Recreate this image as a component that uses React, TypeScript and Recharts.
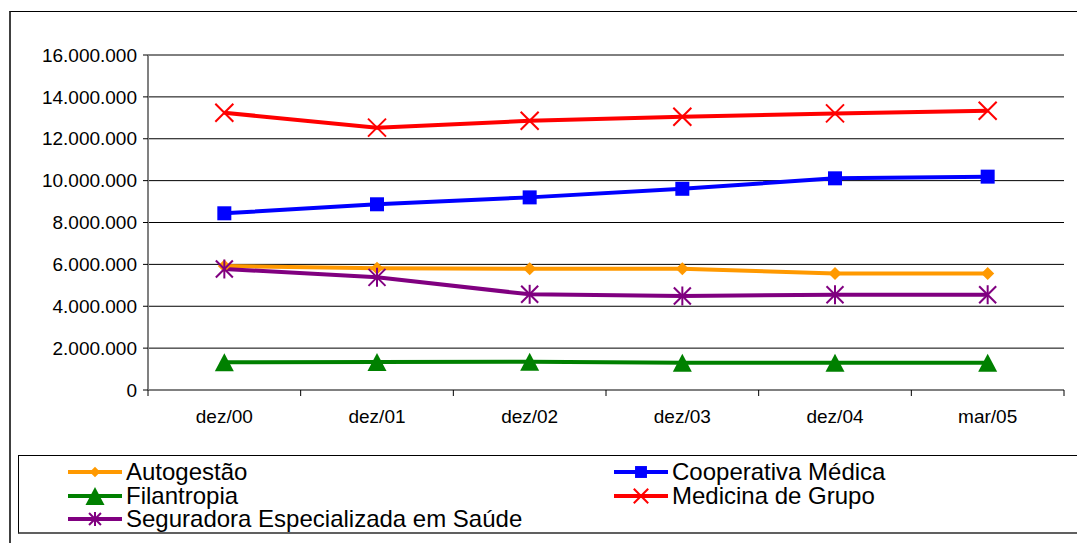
import React from 'react';
import { LineChart, Line, XAxis, YAxis, CartesianGrid, Legend } from 'recharts';

const categories = ['dez/00', 'dez/01', 'dez/02', 'dez/03', 'dez/04', 'mar/05'];
const autogestao = [5920000, 5810000, 5790000, 5790000, 5570000, 5570000];
const cooperativa = [8440000, 8870000, 9200000, 9610000, 10110000, 10190000];
const filantropia = [1320000, 1340000, 1350000, 1300000, 1300000, 1300000];
const medicina = [13240000, 12530000, 12860000, 13050000, 13210000, 13340000];
const seguradora = [5780000, 5380000, 4570000, 4490000, 4550000, 4550000];
const yTicks = [0, 2000000, 4000000, 6000000, 8000000, 10000000, 12000000, 14000000, 16000000];

const data = categories.map((c, i) => ({
  cat: c,
  a: autogestao[i],
  c: cooperativa[i],
  f: filantropia[i],
  m: medicina[i],
  s: seguradora[i],
}));

type Kind = 'diamond' | 'square' | 'triangle' | 'x' | 'star';
const series: { key: string; name: string; color: string; kind: Kind; ls: number }[] = [
  { key: 'a', name: 'Autogestão', color: '#FF9900', kind: 'diamond', ls: 0.8 },
  { key: 'c', name: 'Cooperativa Médica', color: '#0000FF', kind: 'square', ls: 0.85 },
  { key: 'f', name: 'Filantropia', color: '#008000', kind: 'triangle', ls: 1 },
  { key: 'm', name: 'Medicina de Grupo', color: '#FF0000', kind: 'x', ls: 0.8 },
  { key: 's', name: 'Seguradora Especializada em Saúde', color: '#800080', kind: 'star', ls: 0.7 },
];

const FONT = "Arial, 'Liberation Sans', sans-serif";
const TICK_MARGIN = 20;
const TICK_LEN = 6;

function Marker({ cx, cy, kind, color, s = 1 }: { cx: number; cy: number; kind: Kind; color: string; s?: number }) {
  if (cx == null || cy == null || isNaN(cx) || isNaN(cy)) return null;
  switch (kind) {
    case 'diamond': {
      const h = 6.5 * s;
      return <polygon points={`${cx},${cy - h} ${cx + h},${cy} ${cx},${cy + h} ${cx - h},${cy}`} fill={color} />;
    }
    case 'square': {
      const h = 7 * s;
      return <rect x={cx - h} y={cy - h} width={2 * h} height={2 * h} fill={color} />;
    }
    case 'triangle': {
      const w = 9.5 * s;
      const h = 9 * s;
      return <polygon points={`${cx},${cy - h} ${cx + w},${cy + h} ${cx - w},${cy + h}`} fill={color} />;
    }
    case 'x': {
      const h = 9 * s;
      return (
        <g stroke={color} strokeWidth={2}>
          <line x1={cx - h} y1={cy - h} x2={cx + h} y2={cy + h} />
          <line x1={cx - h} y1={cy + h} x2={cx + h} y2={cy - h} />
        </g>
      );
    }
    case 'star': {
      const h = 8.5 * s;
      return (
        <g stroke={color} strokeWidth={2}>
          <line x1={cx - h} y1={cy - h} x2={cx + h} y2={cy + h} />
          <line x1={cx - h} y1={cy + h} x2={cx + h} y2={cy - h} />
          <line x1={cx} y1={cy - h - 1} x2={cx} y2={cy + h + 1} />
        </g>
      );
    }
  }
  return null;
}

const fmt = (v: number) => String(v).replace(/\B(?=(\d{3})+(?!\d))/g, '.');

const XTick = (props: any) => {
  const { x, y, payload, index } = props;
  const off = payload && payload.offset ? payload.offset : 0;
  const axisY = y - TICK_MARGIN;
  const isLast = index === categories.length - 1;
  return (
    <g>
      <line x1={x - off} x2={x - off} y1={axisY} y2={axisY + TICK_LEN} stroke="#000" strokeWidth={1} />
      {isLast && <line x1={x + off} x2={x + off} y1={axisY} y2={axisY + TICK_LEN} stroke="#000" strokeWidth={1} />}
      <text x={x} y={y} dy="0.71em" textAnchor="middle" fill="#000" fontSize={19} fontFamily={FONT}>
        {payload.value}
      </text>
    </g>
  );
};

const LegendContent = () => {
  const colX = [49, 595];
  const rowY = [16, 40, 63];
  return (
    <div style={{ position: 'relative', width: '100%', height: '100%' }}>
      {series.map((s, i) => {
        const col = i % 2;
        const row = Math.floor(i / 2);
        return (
          <div
            key={s.key}
            style={{
              position: 'absolute',
              left: colX[col],
              top: rowY[row] - 11,
              height: 22,
              display: 'flex',
              alignItems: 'center',
              whiteSpace: 'nowrap',
            }}
          >
            <svg width={54} height={22} style={{ display: 'block' }}>
              <line x1={0} y1={11} x2={54} y2={11} stroke={s.color} strokeWidth={4} />
              <Marker cx={27} cy={11} kind={s.kind} color={s.color} s={s.ls} />
            </svg>
            <span style={{ fontFamily: FONT, fontSize: 24, color: '#000', marginLeft: 4, lineHeight: '22px' }}>{s.name}</span>
          </div>
        );
      })}
    </div>
  );
};

export default function App() {
  return (
    <div style={{ position: 'absolute', left: 0, top: 0, width: 1077, height: 543, overflow: 'hidden', background: '#fff' }}>
      <div
        style={{
          position: 'absolute',
          left: 9,
          top: 11,
          width: 1200,
          height: 700,
          borderTop: '1px solid #000',
          borderLeft: '2px solid #404040',
        }}
      />
      <LineChart
        width={1077}
        height={543}
        data={data}
        margin={{ top: 55, right: 13, bottom: 44, left: 0 }}
        style={{ fontFamily: FONT }}
      >
        <CartesianGrid horizontal vertical={false} stroke="#000" strokeWidth={1} />
        <XAxis
          dataKey="cat"
          scale="band"
          axisLine={{ stroke: '#808080', strokeWidth: 2 }}
          tickLine={false}
          tickSize={0}
          tickMargin={TICK_MARGIN}
          height={30}
          tick={<XTick />}
          interval={0}
        />
        <YAxis
          width={148}
          domain={[0, 16000000]}
          ticks={yTicks}
          tickFormatter={fmt}
          tickSize={5}
          tickMargin={6}
          axisLine={{ stroke: '#808080', strokeWidth: 2 }}
          tickLine={{ stroke: '#000' }}
          tick={{ fill: '#000', fontSize: 19, fontFamily: FONT }}
          interval={0}
        />
        <Legend
          content={<LegendContent />}
          wrapperStyle={{
            position: 'absolute',
            left: 18,
            top: 455,
            width: 1100,
            height: 79,
            border: '1px solid #000',
            borderBottom: '2px solid #606060',
            background: '#fff',
            boxSizing: 'border-box',
          }}
        />
        {series.map((s) => (
          <Line
            key={s.key}
            dataKey={s.key}
            name={s.name}
            stroke={s.color}
            strokeWidth={4}
            isAnimationActive={false}
            dot={(p: any) => <Marker key={`${s.key}-${p.index}`} cx={p.cx} cy={p.cy} kind={s.kind} color={s.color} />}
            activeDot={false}
          />
        ))}
      </LineChart>
    </div>
  );
}
